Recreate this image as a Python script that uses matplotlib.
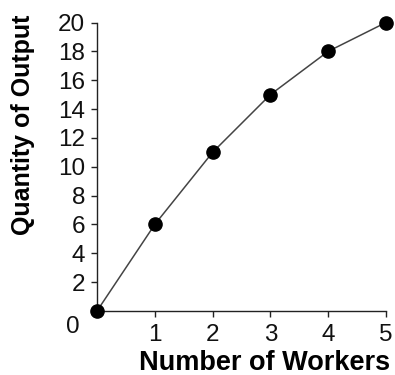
import matplotlib
matplotlib.use("Agg")
import matplotlib.pyplot as plt

workers = [0, 1, 2, 3, 4, 5]
output = [0, 6, 11, 15, 18, 20]
x_ticks = [1, 2, 3, 4, 5]
y_ticks = [2, 4, 6, 8, 10, 12, 14, 16, 18, 20]

plt.rcParams['font.family'] = ['Liberation Sans', 'DejaVu Sans']

W, H = 395, 375
fig = plt.figure(figsize=(W / 100, H / 100), dpi=100)
ax = fig.add_axes([97 / W, 1 - 311 / H, (386 - 97) / W, (311 - 22.5) / H])

ax.plot(workers, output, color='#444444', lw=1.1, zorder=2, clip_on=False)
ax.plot(workers, output, 'o', color='black', ms=9.5, zorder=3, clip_on=False)

ax.set_xlim(0, 5)
ax.set_ylim(0, 20)
ax.set_xticks(x_ticks)
ax.set_yticks(y_ticks)
ax.spines['top'].set_visible(False)
ax.spines['right'].set_visible(False)
for s in ['left', 'bottom']:
    ax.spines[s].set_linewidth(1.0)
    ax.spines[s].set_color('#222222')
ax.tick_params(axis='both', direction='out', length=4.5, width=1.0, color='#222222',
               labelsize=17.5, labelcolor='#111111')
ax.tick_params(axis='x', pad=5)
ax.tick_params(axis='y', pad=4)

ax.annotate('0', xy=(0, 0), xytext=(-24, -16), textcoords='offset pixels',
            ha='center', va='center', fontsize=17.5, color='#111111')

fig.text(264.5 / W, 1 - 362.5 / H, 'Number of Workers', ha='center', va='center',
         fontsize=19.5, fontweight='bold', color='black')
fig.text(23 / W, 1 - 125 / H, 'Quantity of Output', ha='center', va='center',
         rotation=90, fontsize=18, fontweight='bold', color='black')

fig.savefig('out.png', dpi=100)
